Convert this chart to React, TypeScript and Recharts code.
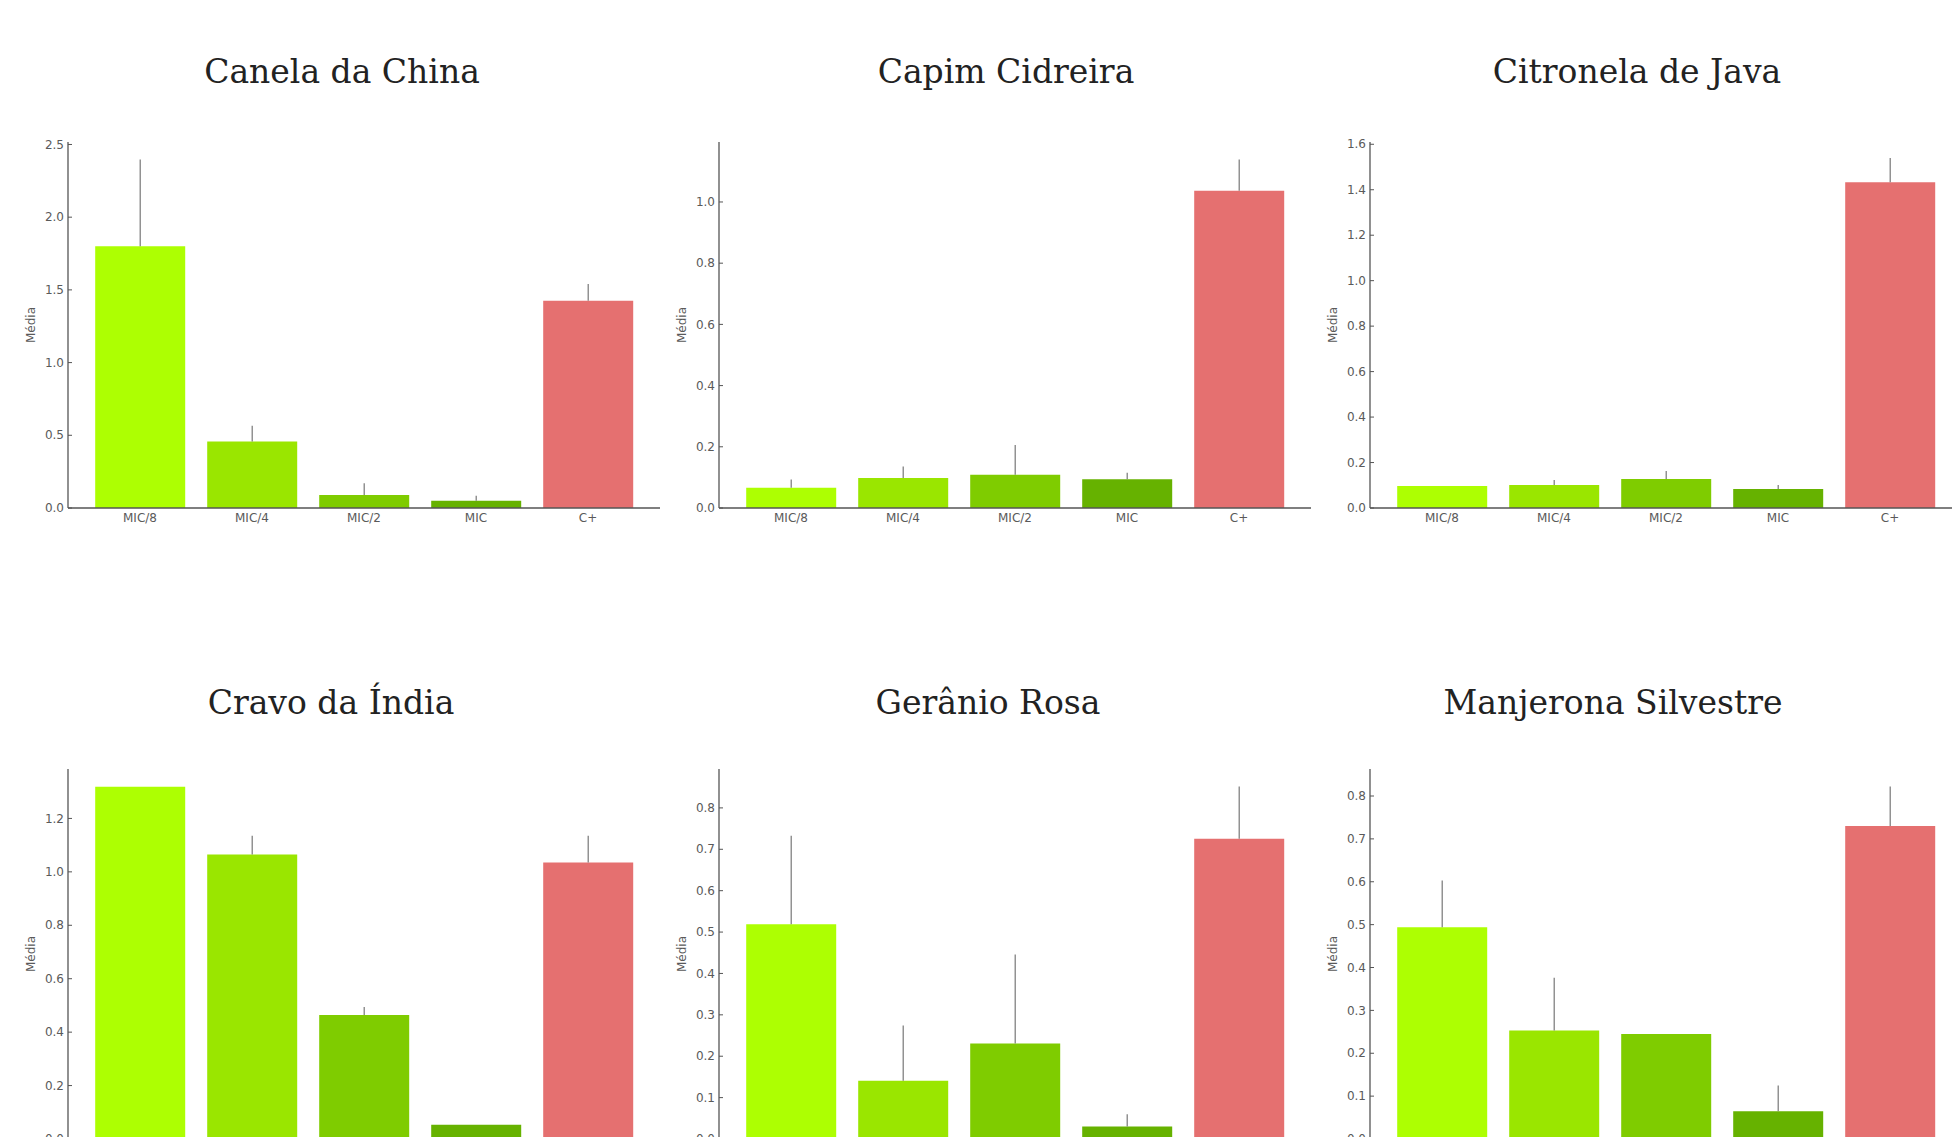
import { BarChart, Bar, XAxis, YAxis, ErrorBar, Cell } from "recharts"

const categories = ["MIC/8", "MIC/4", "MIC/2", "MIC", "C+"]
const barColors = ["#adff02", "#9ae600", "#7fcc00", "#66b200", "#e57070"]

const titles = [
  "Canela da China",
  "Capim Cidreira",
  "Citronela de Java",
  "Cravo da Índia",
  "Gerânio Rosa",
  "Manjerona Silvestre",
]

const canelaMeans = [1.8, 0.457, 0.09, 0.05, 1.426]
const canelaErr = [0.597, 0.108, 0.08, 0.035, 0.114]
const capimMeans = [0.066, 0.098, 0.109, 0.094, 1.037]
const capimErr = [0.027, 0.038, 0.097, 0.021, 0.102]
const citronelaMeans = [0.097, 0.101, 0.128, 0.084, 1.433]
const citronelaErr = [0, 0.022, 0.035, 0.017, 0.107]
const cravoMeans = [1.319, 1.065, 0.464, 0.053, 1.035]
const cravoErr = [0, 0.07, 0.03, 0, 0.1]
const geranioMeans = [0.519, 0.1405, 0.231, 0.03, 0.7255]
const geranioErr = [0.214, 0.134, 0.215, 0.03, 0.126]
const manjeronaMeans = [0.494, 0.253, 0.245, 0.065, 0.73]
const manjeronaErr = [0.109, 0.123, 0, 0.06, 0.092]

const yMax = [2.517, 1.196, 1.61, 1.385, 0.894, 0.863]
const yTicks = [
  [0, 0.5, 1.0, 1.5, 2.0, 2.5],
  [0, 0.2, 0.4, 0.6, 0.8, 1.0],
  [0, 0.2, 0.4, 0.6, 0.8, 1.0, 1.2, 1.4, 1.6],
  [0, 0.2, 0.4, 0.6, 0.8, 1.0, 1.2],
  [0, 0.1, 0.2, 0.3, 0.4, 0.5, 0.6, 0.7, 0.8],
  [0, 0.1, 0.2, 0.3, 0.4, 0.5, 0.6, 0.7, 0.8],
]

const allMeans = [canelaMeans, capimMeans, citronelaMeans, cravoMeans, geranioMeans, manjeronaMeans]
const allErr = [canelaErr, capimErr, citronelaErr, cravoErr, geranioErr, manjeronaErr]

// layout (px): y-axis line x per column, plot top / height per row
const AXIS_X = [68, 719, 1370]
const PLOT_TOP = [142, 769]
const PLOT_H = [366, 370]
const PLOT_W = 592
const Y_AXIS_W = 60
const TITLE_X = [342, 1006, 1637, 331, 988, 1613]
const TITLE_Y = [83, 714]

const TICK_FONT = "'DejaVu Sans', sans-serif"
const TEXT_GRAY = "#5a5a5a"
const AXIS_GRAY = "#555"

function YTick(props: any) {
  const { x, y, payload } = props
  return (
    <g>
      <line x1={x + 4} x2={x + 8} y1={y} y2={y} stroke={AXIS_GRAY} strokeWidth={1} />
      <text
        x={x}
        y={y}
        dy="0.35em"
        textAnchor="end"
        fill={TEXT_GRAY}
        fontSize={12}
        fontFamily={TICK_FONT}
      >
        {Number(payload.value).toFixed(1)}
      </text>
    </g>
  )
}

function Panel({ idx }: { idx: number }) {
  const col = idx % 3
  const row = Math.floor(idx / 3)
  const data = categories.map((c, i) => ({
    name: c,
    value: allMeans[idx][i],
    err: [0, allErr[idx][i]],
  }))
  const top = 20
  const bottom = 30
  const w = Y_AXIS_W + PLOT_W + 10
  const h = top + PLOT_H[row] + bottom
  return (
    <div
      style={{
        position: "absolute",
        left: AXIS_X[col] - Y_AXIS_W,
        top: PLOT_TOP[row] - top,
        width: w,
        height: h,
      }}
    >
      <BarChart
        width={w}
        height={h}
        data={data}
        margin={{ top, right: 10, bottom: 0, left: 0 }}
        barCategoryGap="10%"
      >
        <XAxis
          dataKey="name"
          height={bottom}
          padding={{ left: 16, right: 16 }}
          axisLine={{ stroke: AXIS_GRAY, strokeWidth: 1.3 }}
          tickLine={false}
          tickSize={0}
          tickMargin={5}
          tick={{ fill: TEXT_GRAY, fontSize: 12, fontFamily: TICK_FONT }}
          interval={0}
        />
        <YAxis
          width={Y_AXIS_W}
          domain={[0, yMax[idx]]}
          ticks={yTicks[idx]}
          allowDataOverflow
          axisLine={{ stroke: AXIS_GRAY, strokeWidth: 1.3 }}
          tickLine={false}
          tickSize={0}
          tickMargin={4}
          tick={<YTick />}
          interval={0}
          label={{
            value: "Média",
            angle: -90,
            position: "insideLeft",
            offset: 23,
            style: { textAnchor: "middle", fill: TEXT_GRAY, fontSize: 12, fontFamily: TICK_FONT },
          }}
        />
        <Bar dataKey="value" isAnimationActive={false}>
          {data.map((d, i) => (
            <Cell key={d.name} fill={barColors[i]} />
          ))}
          <ErrorBar dataKey="err" width={0} stroke="#777" strokeWidth={1.2} direction="y" />
        </Bar>
      </BarChart>
    </div>
  )
}

export default function App() {
  return (
    <div
      style={{
        position: "absolute",
        left: 0,
        top: 0,
        width: 1952,
        height: 1137,
        overflow: "hidden",
        background: "#fff",
      }}
    >
      <svg
        width={1952}
        height={1137}
        style={{ position: "absolute", left: 0, top: 0, pointerEvents: "none" }}
      >
        {titles.map((t, i) => (
          <text
            key={t}
            x={TITLE_X[i]}
            y={TITLE_Y[Math.floor(i / 3)]}
            textAnchor="middle"
            fontFamily="'DejaVu Serif', serif"
            fontSize={33}
            fill="#222"
          >
            {t}
          </text>
        ))}
      </svg>
      {titles.map((t, i) => (
        <Panel key={t} idx={i} />
      ))}
    </div>
  )
}
